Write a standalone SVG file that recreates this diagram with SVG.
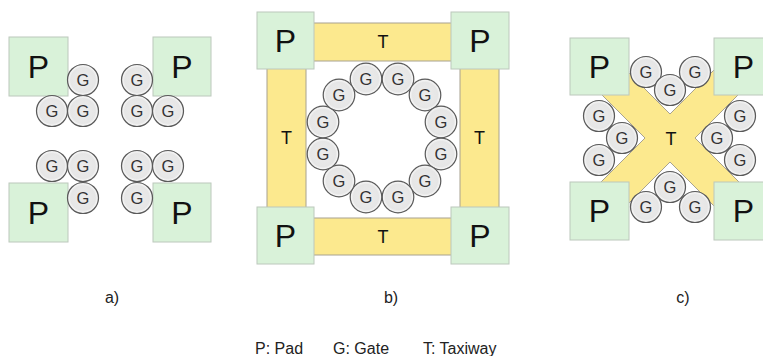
<svg xmlns="http://www.w3.org/2000/svg" width="763" height="356" viewBox="0 0 763 356">
<defs>
<radialGradient id="gg" cx="50%" cy="50%" r="50%">
<stop offset="0%" stop-color="#ececec"/>
<stop offset="80%" stop-color="#e6e6e6"/>
<stop offset="92%" stop-color="#f4f4f4"/>
<stop offset="100%" stop-color="#d0d0d0"/>
</radialGradient>
</defs>
<style>
.pad{fill:#d9f2d9;stroke:#bcc8bc;stroke-width:1}
.tw{fill:#fce98e;stroke:#a8a290;stroke-width:1}
.gc{fill:url(#gg);stroke:#5a5a5a;stroke-width:1.2}
.pt{font-family:"Liberation Sans",Arial,sans-serif;font-size:32px;fill:#111;text-anchor:middle}
.gt{font-family:"Liberation Sans",Arial,sans-serif;font-size:16.5px;fill:#333;text-anchor:middle}
.tt{font-family:"Liberation Sans",Arial,sans-serif;font-size:18px;fill:#111;text-anchor:middle}
.lb{font-family:"Liberation Sans",Arial,sans-serif;font-size:16px;fill:#222;text-anchor:middle}
.lg{font-family:"Liberation Sans",Arial,sans-serif;font-size:16px;fill:#222}
</style>
<rect width="763" height="356" fill="#ffffff"/>

<!-- Panel a -->
<g id="a_pad_tl"><rect class="pad" x="9" y="37" width="59" height="59"/><text class="pt" x="38.5" y="78">P</text></g>
<g id="a_pad_tr"><rect class="pad" x="153" y="37" width="58" height="59"/><text class="pt" x="182" y="78">P</text></g>
<g id="a_pad_bl"><rect class="pad" x="9" y="183" width="59" height="59"/><text class="pt" x="38.5" y="224">P</text></g>
<g id="a_pad_br"><rect class="pad" x="153" y="183" width="58" height="59"/><text class="pt" x="182" y="224">P</text></g>

<g id="a_g1"><circle class="gc" cx="83" cy="80" r="15.5"/><text class="gt" x="83" y="86">G</text></g>
<g id="a_g2"><circle class="gc" cx="52" cy="111" r="15.5"/><text class="gt" x="52" y="117">G</text></g>
<g id="a_g3"><circle class="gc" cx="83" cy="111" r="15.5"/><text class="gt" x="83" y="117">G</text></g>
<g id="a_g4"><circle class="gc" cx="137" cy="80" r="15.5"/><text class="gt" x="137" y="86">G</text></g>
<g id="a_g5"><circle class="gc" cx="137" cy="111" r="15.5"/><text class="gt" x="137" y="117">G</text></g>
<g id="a_g6"><circle class="gc" cx="168" cy="111" r="15.5"/><text class="gt" x="168" y="117">G</text></g>
<g id="a_g7"><circle class="gc" cx="52" cy="166" r="15.5"/><text class="gt" x="52" y="172">G</text></g>
<g id="a_g8"><circle class="gc" cx="83" cy="166" r="15.5"/><text class="gt" x="83" y="172">G</text></g>
<g id="a_g9"><circle class="gc" cx="83" cy="198" r="15.5"/><text class="gt" x="83" y="204">G</text></g>
<g id="a_g10"><circle class="gc" cx="137" cy="166" r="15.5"/><text class="gt" x="137" y="172">G</text></g>
<g id="a_g11"><circle class="gc" cx="168" cy="166" r="15.5"/><text class="gt" x="168" y="172">G</text></g>
<g id="a_g12"><circle class="gc" cx="137" cy="198" r="15.5"/><text class="gt" x="137" y="204">G</text></g>

<!-- Panel b -->
<g id="b_t_top"><rect class="tw" x="310" y="23" width="144" height="38"/><text class="tt" x="383" y="48">T</text></g>
<g id="b_t_bot"><rect class="tw" x="310" y="218" width="144" height="37"/><text class="tt" x="383" y="243">T</text></g>
<g id="b_t_left"><rect class="tw" x="267" y="65" width="39" height="146"/><text class="tt" x="286.5" y="144">T</text></g>
<g id="b_t_right"><rect class="tw" x="460" y="65" width="39" height="146"/><text class="tt" x="479.5" y="144">T</text></g>

<g id="b_pad_tl"><rect class="pad" x="257" y="12" width="57" height="57"/><text class="pt" x="285.5" y="52">P</text></g>
<g id="b_pad_tr"><rect class="pad" x="451" y="12" width="58" height="57"/><text class="pt" x="480" y="52">P</text></g>
<g id="b_pad_bl"><rect class="pad" x="257" y="207" width="57" height="57"/><text class="pt" x="285.5" y="247">P</text></g>
<g id="b_pad_br"><rect class="pad" x="451" y="207" width="58" height="57"/><text class="pt" x="480" y="247">P</text></g>

<g id="b_g1"><circle class="gc" cx="366" cy="79" r="15.8"/><text class="gt" x="366" y="85">G</text></g>
<g id="b_g2"><circle class="gc" cx="398" cy="79" r="15.8"/><text class="gt" x="398" y="85">G</text></g>
<g id="b_g3"><circle class="gc" cx="425" cy="95" r="15.8"/><text class="gt" x="425" y="101">G</text></g>
<g id="b_g4"><circle class="gc" cx="441" cy="122" r="15.8"/><text class="gt" x="441" y="128">G</text></g>
<g id="b_g5"><circle class="gc" cx="441" cy="154" r="15.8"/><text class="gt" x="441" y="160">G</text></g>
<g id="b_g6"><circle class="gc" cx="425" cy="181" r="15.8"/><text class="gt" x="425" y="187">G</text></g>
<g id="b_g7"><circle class="gc" cx="398" cy="197" r="15.8"/><text class="gt" x="398" y="203">G</text></g>
<g id="b_g8"><circle class="gc" cx="366" cy="197" r="15.8"/><text class="gt" x="366" y="203">G</text></g>
<g id="b_g9"><circle class="gc" cx="339" cy="181" r="15.8"/><text class="gt" x="339" y="187">G</text></g>
<g id="b_g10"><circle class="gc" cx="323" cy="154" r="15.8"/><text class="gt" x="323" y="160">G</text></g>
<g id="b_g11"><circle class="gc" cx="323" cy="122" r="15.8"/><text class="gt" x="323" y="128">G</text></g>
<g id="b_g12"><circle class="gc" cx="339" cy="95" r="15.8"/><text class="gt" x="339" y="101">G</text></g>

<!-- Panel c -->
<g id="c_taxiway">
<polygon class="tw" points="617,61 670,114 723,61 747.5,85.5 695,138 747.5,190.5 723,215 670,162 617,215 592.5,190.5 645,138 592.5,85.5"/>
<text class="tt" x="671" y="145">T</text>
</g>
<g id="c_pad_tl"><rect class="pad" x="570" y="38" width="59" height="57"/><text class="pt" x="599.5" y="78">P</text></g>
<g id="c_pad_tr"><rect class="pad" x="714" y="38" width="59" height="57"/><text class="pt" x="743.5" y="78">P</text></g>
<g id="c_pad_bl"><rect class="pad" x="570" y="182" width="59" height="58"/><text class="pt" x="599.5" y="222">P</text></g>
<g id="c_pad_br"><rect class="pad" x="714" y="182" width="59" height="58"/><text class="pt" x="743.5" y="222">P</text></g>

<g id="c_g1"><circle class="gc" cx="646" cy="72" r="15.5"/><text class="gt" x="646" y="78">G</text></g>
<g id="c_g2"><circle class="gc" cx="695" cy="72" r="15.5"/><text class="gt" x="695" y="78">G</text></g>
<g id="c_g3"><circle class="gc" cx="670" cy="90" r="15.5"/><text class="gt" x="670" y="96">G</text></g>
<g id="c_g4"><circle class="gc" cx="599" cy="116" r="15.5"/><text class="gt" x="599" y="122">G</text></g>
<g id="c_g5"><circle class="gc" cx="622" cy="138" r="15.5"/><text class="gt" x="622" y="144">G</text></g>
<g id="c_g6"><circle class="gc" cx="599" cy="160" r="15.5"/><text class="gt" x="599" y="166">G</text></g>
<g id="c_g7"><circle class="gc" cx="740" cy="116" r="15.5"/><text class="gt" x="740" y="122">G</text></g>
<g id="c_g8"><circle class="gc" cx="717" cy="138" r="15.5"/><text class="gt" x="717" y="144">G</text></g>
<g id="c_g9"><circle class="gc" cx="740" cy="160" r="15.5"/><text class="gt" x="740" y="166">G</text></g>
<g id="c_g10"><circle class="gc" cx="670" cy="187" r="15.5"/><text class="gt" x="670" y="193">G</text></g>
<g id="c_g11"><circle class="gc" cx="646" cy="207" r="15.5"/><text class="gt" x="646" y="213">G</text></g>
<g id="c_g12"><circle class="gc" cx="695" cy="207" r="15.5"/><text class="gt" x="695" y="213">G</text></g>

<g id="captions">
<text class="lb" x="112" y="303">a)</text>
<text class="lb" x="391" y="303">b)</text>
<text class="lb" x="683" y="303">c)</text>
</g>
<g id="legend">
<text class="lg" x="255" y="354">P: Pad</text>
<text class="lg" x="333" y="354">G: Gate</text>
<text class="lg" x="423" y="354">T: Taxiway</text>
</g>
<g id="connectors"></g>
</svg>
